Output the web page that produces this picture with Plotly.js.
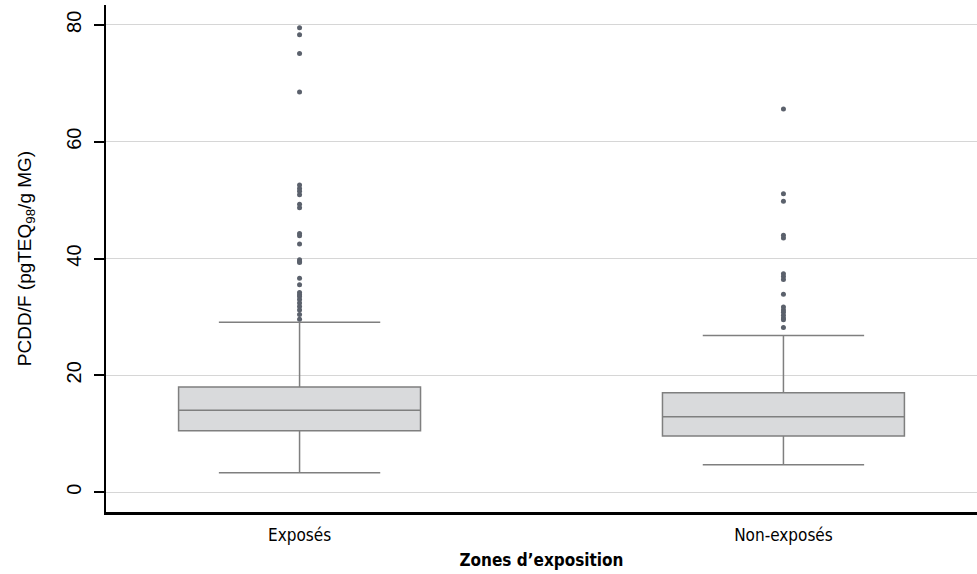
<!DOCTYPE html>
<html>
<head>
<meta charset="utf-8">
<script src="https://cdn.plot.ly/plotly-3.0.1.min.js"></script>
<style>html,body{margin:0;padding:0;background:#fff;}#chart{width:977px;height:574px;}</style>
</head>
<body>
<div id="chart"></div>
<script>
const categories = ['Exposés', 'Non-exposés'];
const q1Values = [10.5, 9.6];
const medianValues = [14.0, 12.9];
const q3Values = [18.0, 17.0];
const lowerFences = [3.3, 4.7];
const upperFences = [29.1, 26.8];
const outliersExposes = [79.5, 78.3, 75.1, 68.5, 52.6, 52.0, 51.5, 50.9, 49.3, 48.7, 44.3, 43.9, 42.5, 39.8, 39.5, 39.3, 36.6, 35.5, 34.2, 33.8, 33.5, 33.0, 32.4, 31.8, 31.2, 30.4, 29.6];
const outliersNonExposes = [65.6, 51.1, 49.8, 44.0, 43.5, 37.4, 36.9, 36.4, 33.9, 31.7, 31.2, 30.8, 30.3, 29.8, 29.5, 28.2];
const yTickValues = [0, 20, 40, 60, 80];

const boxTrace = {
  type: 'box',
  x: categories,
  q1: q1Values,
  median: medianValues,
  q3: q3Values,
  lowerfence: lowerFences,
  upperfence: upperFences,
  width: 0.5,
  whiskerwidth: 0.667,
  fillcolor: '#d9dadc',
  line: {color: '#7f7f7f', width: 1.5},
  boxpoints: false,
  hoverinfo: 'skip',
  showlegend: false
};

const outX = [];
const outY = [];
outliersExposes.forEach(v => { outX.push(categories[0]); outY.push(v); });
outliersNonExposes.forEach(v => { outX.push(categories[1]); outY.push(v); });

const outTrace = {
  type: 'scatter',
  mode: 'markers',
  x: outX,
  y: outY,
  marker: {color: '#5b616c', size: 5},
  showlegend: false,
  hoverinfo: 'skip'
};

const condensed = 'Liberation Sans Narrow, DejaVu Sans Condensed, Liberation Sans, sans-serif';

const layout = {
  width: 977,
  height: 574,
  margin: {l: 106, r: 0, t: 5, b: 62},
  paper_bgcolor: '#ffffff',
  plot_bgcolor: '#ffffff',
  showlegend: false,
  xaxis: {
    type: 'category',
    range: [-0.4, 1.4],
    showgrid: false,
    zeroline: false,
    showline: true,
    linecolor: '#000000',
    linewidth: 2.5,
    ticks: '',
    ticklabelstandoff: 6,
    tickfont: {family: condensed, size: 17, color: '#000'},
    title: {text: '<b>Zones d’exposition</b>', font: {family: condensed, size: 17, color: '#000'}, standoff: 10}
  },
  yaxis: {
    range: [-3.4, 83.4],
    tickvals: yTickValues,
    ticktext: yTickValues.map(String),
    tickangle: -90,
    ticks: 'outside',
    ticklen: 10,
    tickwidth: 2,
    tickcolor: '#000',
    ticklabelstandoff: 5,
    showline: true,
    linecolor: '#000',
    linewidth: 2.5,
    showgrid: true,
    gridcolor: '#d6d6d6',
    gridwidth: 1,
    zeroline: false,
    tickfont: {family: 'Liberation Sans, Arial, sans-serif', size: 20, color: '#000'},
    title: {text: 'PCDD/F (pgTEQ<sub>98</sub>/g MG)', font: {family: 'Liberation Sans, Arial, sans-serif', size: 19, color: '#000'}, standoff: 26}
  }
};

Plotly.newPlot('chart', [boxTrace, outTrace], layout, {displayModeBar: false, staticPlot: true});
</script>
</body>
</html>
